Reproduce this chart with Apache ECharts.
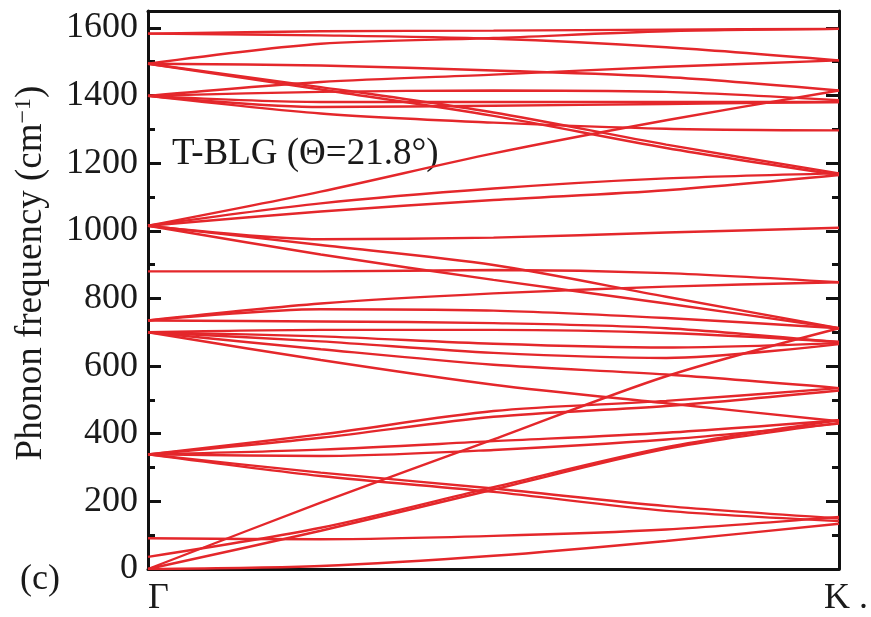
<!DOCTYPE html>
<html>
<head>
<meta charset="utf-8">
<script src="https://cdn.jsdelivr.net/npm/echarts@6/dist/echarts.min.js"></script>
<style>
html,body{margin:0;padding:0;background:#fff;}
#chart{width:871px;height:617px;}
</style>
</head>
<body>
<div id="chart"></div>
<script>
// k-path positions (Γ = 0, K = 1)
const kPoints = [0, 0.25, 0.5, 0.75, 1];
const kLabels = ['Γ', 'K .'];
const yTicks = [0, 200, 400, 600, 800, 1000, 1200, 1400, 1600];

// phonon frequencies (cm^-1) at each kPoint
const acousticBands = [
  [0, 9, 39, 83, 134],
  [0, 196, 383, 570, 712],
  [0, 113, 235, 355, 432],
  [36, 122, 242, 360, 440],
  [91, 88, 98, 117, 154]
];
const lowOpticalBands = [
  [339, 285, 238, 186, 150],
  [339, 275, 228, 172, 142],
  [339, 398, 467, 497, 535],
  [339, 388, 450, 482, 528],
  [339, 353, 378, 403, 440],
  [339, 334, 352, 383, 430]
];
const midBands = [
  [735, 785, 815, 835, 848],
  [735, 768, 764, 742, 712],
  [735, 732, 727, 712, 670],
  [700, 707, 707, 698, 672],
  [700, 688, 666, 655, 668],
  [700, 673, 639, 624, 665],
  [700, 650, 604, 575, 535],
  [700, 618, 545, 490, 437],
  [880, 880, 884, 875, 848]
];
const highBands = [
  [1015, 1116, 1229, 1327, 1415],
  [1015, 1081, 1125, 1155, 1170],
  [1015, 1057, 1091, 1120, 1165],
  [1015, 975, 980, 995, 1009],
  [1015, 958, 899, 805, 712],
  [1015, 930, 855, 785, 712]
];
const topBands = [
  [1583, 1590, 1592, 1595, 1597],
  [1494, 1553, 1570, 1590, 1597],
  [1583, 1578, 1568, 1543, 1504],
  [1494, 1489, 1474, 1455, 1415],
  [1399, 1440, 1462, 1485, 1504],
  [1399, 1411, 1415, 1411, 1386],
  [1399, 1381, 1381, 1381, 1381],
  [1399, 1366, 1370, 1375, 1381],
  [1399, 1347, 1320, 1302, 1297],
  [1494, 1425, 1350, 1255, 1170],
  [1494, 1418, 1340, 1245, 1165]
];

const allBands = [].concat(acousticBands, lowOpticalBands, midBands, highBands, topBands);
const FONT = 'Liberation Serif';
const RED = '#e4272b';
const INK = '#1a1a1a';

const series = allBands.map(function (b) {
  return {
    type: 'line',
    data: b.map(function (v, i) { return [kPoints[i], v]; }),
    smooth: 0.3,
    showSymbol: false,
    symbol: 'none',
    silent: true,
    lineStyle: { color: RED, width: 2.4 },
    z: 2
  };
});

const chart = echarts.init(document.getElementById('chart'), null, { renderer: 'canvas' });
chart.setOption({
  animation: false,
  backgroundColor: '#fff',
  textStyle: { fontFamily: FONT },
  grid: { left: 148, right: 24, top: 11, bottom: 45, containLabel: false },
  xAxis: [{
    type: 'value', min: 0, max: 1, interval: 1,
    axisLine: { show: true, onZero: false, lineStyle: { color: '#111', width: 3 } },
    axisTick: { show: false },
    splitLine: { show: false },
    axisLabel: {
      show: true, margin: 12, color: INK, fontFamily: FONT, fontSize: 36,
      alignMinLabel: 'left',
      formatter: function (v) { return v === 0 ? '{g|' + kLabels[0] + '}' : (v === 1 ? '{k|' + kLabels[1] + '}' : ''); },
      rich: {
        g: { fontFamily: FONT, fontSize: 36, color: INK },
        k: { fontFamily: FONT, fontSize: 36, color: INK, padding: [0, 0, 0, 14] }
      }
    }
  }, {
    type: 'value', min: 0, max: 1, position: 'top',
    axisLine: { show: true, onZero: false, lineStyle: { color: '#111', width: 3 } },
    axisTick: { show: false }, axisLabel: { show: false }, splitLine: { show: false }
  }],
  yAxis: [{
    type: 'value', min: 0, max: 1650, interval: 200,
    name: '{n|Phonon frequency (cm}{sup|−1}{n|)}',
    nameLocation: 'middle', nameRotate: 90, nameGap: 97,
    nameTextStyle: {
      color: INK, fontFamily: FONT, fontSize: 37,
      padding: [0, 0, 0, 34],
      rich: {
        n: { fontFamily: FONT, fontSize: 37, color: INK },
        sup: { fontFamily: FONT, fontSize: 24, verticalAlign: 'top', padding: [0, 0, 15, 0], color: INK }
      }
    },
    axisLine: { show: true, onZero: false, lineStyle: { color: '#111', width: 3 } },
    axisTick: { show: true, inside: true, length: 13, lineStyle: { color: '#111', width: 3 } },
    minorTick: { show: true, splitNumber: 2, length: 7, lineStyle: { color: '#111', width: 3 } },
    splitLine: { show: false },
    axisLabel: {
      margin: 10, color: INK, fontFamily: FONT, fontSize: 36,
      formatter: function (v) { return yTicks.indexOf(v) >= 0 ? String(v) : ''; }
    }
  }, {
    type: 'value', min: 0, max: 1650, interval: 200, position: 'right',
    axisLine: { show: true, onZero: false, lineStyle: { color: '#111', width: 3 } },
    axisTick: { show: true, inside: true, length: 13, lineStyle: { color: '#111', width: 3 } },
    minorTick: { show: true, splitNumber: 2, length: 7, lineStyle: { color: '#111', width: 3 } },
    splitLine: { show: false },
    axisLabel: { show: false }
  }],
  graphic: [
    { type: 'text', left: 172, top: 136, style: { text: 'T-BLG (Θ=21.8°)', fontFamily: FONT, fontSize: 37, fill: INK } },
    { type: 'text', left: 20, top: 562, style: { text: '(c)', fontFamily: FONT, fontSize: 36, fill: INK } }
  ],
  series: series
});
</script>
</body>
</html>
